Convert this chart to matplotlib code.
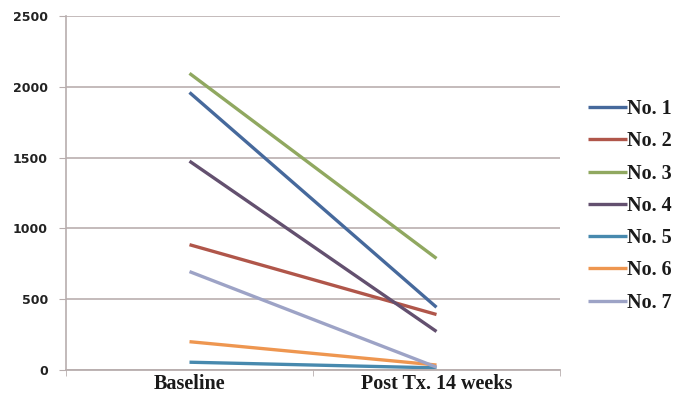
import matplotlib.pyplot as plt

# time points and patient series
timepoints = ["Baseline", "Post Tx. 14 weeks"]
labels = ["No. 1", "No. 2", "No. 3", "No. 4", "No. 5", "No. 6", "No. 7"]
baseline = [1960, 885, 2095, 1475, 55, 200, 695]
post_14wk = [443, 392, 788, 272, 15, 35, 20]
colors = ["#46699C", "#B0564A", "#90A860", "#63506F", "#4789AE", "#EE9650", "#9DA3C6"]

fig = plt.figure(figsize=(6.82, 3.99), dpi=100)
ax = fig.add_axes([66 / 682, 29 / 399, (560 - 66) / 682, (370 - 16) / 399])

x = list(range(len(timepoints)))
for lab, b, p, c in zip(labels, baseline, post_14wk, colors):
    ax.plot(x, [b, p], color=c, lw=2.4, label=lab, solid_capstyle="butt")

ax.set_xlim(-0.5, 1.5)
ax.set_ylim(0, 2500)
ax.set_yticks(range(0, 2501, 500))
ax.set_yticklabels([str(v) for v in range(0, 2501, 500)],
                   fontsize=9, fontweight="bold", color="#222222", family="DejaVu Sans")

# category labels, ticks between categories like the original
ax.set_xticks(x)
ax.set_xticklabels(timepoints, fontsize=14.5, fontweight="bold", family="Liberation Serif",
                   color="#1a1a1a")
ax.set_xticks([-0.5, 0.5, 1.5], minor=True)
ax.tick_params(axis="x", which="major", length=0, pad=3)
ax.tick_params(axis="x", which="minor", length=4, color="#B8AEAE")
ax.tick_params(axis="y", length=5, color="#B8AEAE", pad=8)

ax.grid(axis="y", color="#BFB5B5", lw=1.3)
ax.set_axisbelow(True)
for side in ["top", "right"]:
    ax.spines[side].set_visible(False)
ax.spines["left"].set_color("#B8AEAE")
ax.spines["bottom"].set_color("#B8AEAE")
ax.spines["left"].set_linewidth(1.2)
ax.spines["bottom"].set_linewidth(1.3)

leg = fig.legend(loc="upper left", bbox_to_anchor=(588 / 682, 1 - 99 / 399),
                 frameon=False, handlelength=1.95, handletextpad=0.0,
                 labelspacing=0.61, borderpad=0, borderaxespad=0,
                 prop={"family": "Liberation Serif", "weight": "bold", "size": 14.5})
for line in leg.get_lines():
    line.set_linewidth(2.4)
for t in leg.get_texts():
    t.set_color("#1a1a1a")

fig.savefig("out.png", dpi=100)
